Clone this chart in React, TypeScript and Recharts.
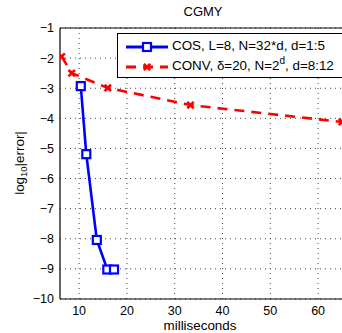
import { LineChart, Line, XAxis, YAxis, CartesianGrid, ReferenceLine } from "recharts"

const cosMs = [10.35, 11.5, 13.7, 15.9, 17.3]
const cosErr = [-2.93, -5.19, -8.04, -9.02, -9.02]
const convMs = [6.35, 8.45, 16.0, 33.3, 65]
const convErr = [-1.95, -2.5, -2.99, -3.56, -4.12]
const xTicks = [10, 20, 30, 40, 50, 60]
const yTicks = [-10, -9, -8, -7, -6, -5, -4, -3, -2, -1]

const FONT = "'Liberation Sans', Arial, Helvetica, sans-serif"
const BLUE = "#0000ff"
const RED = "#ff0000"

const cosData = cosMs.map((x, i) => ({ x, y: cosErr[i] }))
const convData = convMs.map((x, i) => ({ x, y: convErr[i] }))

const SquareDot = (p: any) => {
  const { cx, cy } = p
  if (cx == null || cy == null) return null
  return <rect x={cx - 4} y={cy - 4} width={8} height={8} fill="#fff" stroke={BLUE} strokeWidth={2.2} />
}

const CrossDot = (p: any) => {
  const { cx, cy } = p
  if (cx == null || cy == null) return null
  const s = 3.2
  return (
    <g stroke={RED} strokeWidth={2.6}>
      <line x1={cx - s} y1={cy - s} x2={cx + s} y2={cy + s} />
      <line x1={cx - s} y1={cy + s} x2={cx + s} y2={cy - s} />
    </g>
  )
}

const fmtY = (v: number) => (v < 0 ? `\u2212${Math.abs(v)}` : `${v}`)

function LegendBox() {
  return (
    <div
      style={{
        position: "absolute",
        left: 117,
        top: 33,
        width: 240,
        height: 43,
        border: "1px solid #000",
        background: "#fff",
        fontFamily: FONT,
        fontSize: 13.4,
        color: "#000",
      }}
    >
      <svg width={52} height={43} style={{ position: "absolute", left: 0, top: 0 }}>
        <line x1={8} y1={13} x2={50} y2={13} stroke={BLUE} strokeWidth={2.8} />
        <SquareDot cx={29} cy={13} />
        <line x1={8} y1={33} x2={50} y2={33} stroke={RED} strokeWidth={2.8} strokeDasharray="10 7" />
        <CrossDot cx={29} cy={33} />
      </svg>
      <div style={{ position: "absolute", left: 54, top: 4, whiteSpace: "nowrap" }}>
        COS, L=8, N=32*d, d=1:5
      </div>
      <div style={{ position: "absolute", left: 54, top: 24, whiteSpace: "nowrap" }}>
        CONV, δ=20, N=2<sup style={{ fontSize: 10, verticalAlign: 6, lineHeight: 0 }}>d</sup>, d=8:12
      </div>
    </div>
  )
}

export default function App() {
  return (
    <div style={{ position: "relative", width: 342, height: 333, background: "#fff", overflow: "hidden" }}>
      <style>{`body{margin:0}`}</style>
      <LineChart width={342} height={333} margin={{ top: 28, right: 0, bottom: 0, left: 0 }}>
        <CartesianGrid
          stroke="#444"
          strokeDasharray="1 4"
          horizontalValues={yTicks}
          verticalValues={xTicks}
        />
        <XAxis
          type="number"
          dataKey="x"
          domain={[6, 65]}
          ticks={xTicks}
          allowDataOverflow
          height={34}
          tickLine={false}
          tickSize={0}
          tickMargin={7}
          axisLine={{ stroke: "#000", strokeWidth: 1.2 }}
          tick={{ fill: "#000", fontSize: 12.5, fontFamily: FONT }}
        />
        <YAxis
          type="number"
          dataKey="y"
          domain={[-10, -1]}
          ticks={yTicks}
          allowDataOverflow
          width={60}
          tickLine={false}
          tickSize={0}
          tickMargin={6}
          tickFormatter={fmtY}
          axisLine={{ stroke: "#000", strokeWidth: 1.2 }}
          tick={{ fill: "#000", fontSize: 12.5, fontFamily: FONT }}
        />
        <ReferenceLine y={-1} stroke="#000" strokeWidth={1.2} />
        <Line
          data={convData}
          dataKey="y"
          stroke={RED}
          strokeWidth={2.6}
          strokeDasharray="10 7"
          dot={<CrossDot />}
          isAnimationActive={false}
        />
        <Line
          data={cosData}
          dataKey="y"
          stroke={BLUE}
          strokeWidth={2.6}
          dot={<SquareDot />}
          isAnimationActive={false}
        />
      </LineChart>
      <LegendBox />
      <div
        style={{
          position: "absolute",
          left: 150,
          width: 106,
          top: 4,
          textAlign: "center",
          fontFamily: FONT,
          fontSize: 13,
        }}
      >
        CGMY
      </div>
      <div
        style={{
          position: "absolute",
          left: 140,
          width: 120,
          top: 319,
          lineHeight: "14px",
          textAlign: "center",
          fontFamily: FONT,
          fontSize: 13.4,
        }}
      >
        milliseconds
      </div>
      <div
        style={{
          position: "absolute",
          left: 19,
          top: 163,
          transform: "translate(-50%, -50%) rotate(-90deg)",
          whiteSpace: "nowrap",
          fontFamily: FONT,
          fontSize: 13.4,
        }}
      >
        log<sub style={{ fontSize: 9.5, verticalAlign: -3, lineHeight: 0 }}>10</sub>|error|
      </div>
    </div>
  )
}
